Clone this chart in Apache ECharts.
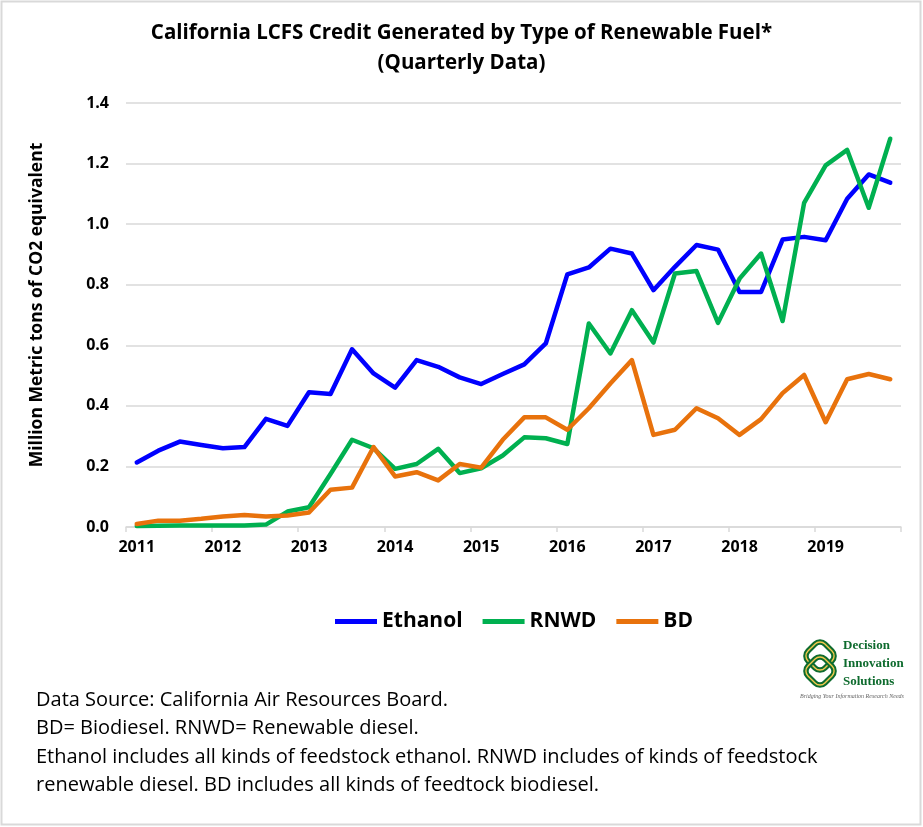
<!DOCTYPE html>
<html>
<head>
<meta charset="utf-8">
<script src="https://cdn.jsdelivr.net/npm/echarts@6/dist/echarts.min.js"></script>
<style>
html,body{margin:0;padding:0;background:#fff;}
#chart{width:923px;height:827px;}
</style>
</head>
<body>
<div id="chart"></div>
<script>
var years = ['2011','2012','2013','2014','2015','2016','2017','2018','2019'];
var quarters = ['Q1','Q2','Q3','Q4'];
var yTicks = [0, 0.2, 0.4, 0.6, 0.8, 1.0, 1.2, 1.4];

var ethanol = [0.213,0.252,0.282,0.271,0.260,0.264,0.357,0.334,0.445,0.439,0.587,0.507,
               0.460,0.551,0.529,0.494,0.472,0.505,0.537,0.606,0.834,0.857,0.919,0.903,
               0.782,0.859,0.931,0.916,0.776,0.776,0.949,0.958,0.947,1.084,1.164,1.137];
var rnwd    = [0.003,0.004,0.005,0.005,0.005,0.005,0.008,0.051,0.065,0.175,0.288,0.260,
               0.192,0.208,0.258,0.178,0.194,0.236,0.296,0.293,0.274,0.672,0.573,0.716,
               0.609,0.837,0.845,0.674,0.820,0.903,0.680,1.070,1.194,1.245,1.054,1.282];
var bd      = [0.010,0.021,0.021,0.027,0.035,0.040,0.035,0.038,0.048,0.123,0.130,0.264,
               0.167,0.181,0.154,0.208,0.196,0.288,0.362,0.362,0.321,0.392,0.474,0.551,
               0.304,0.321,0.392,0.359,0.304,0.356,0.442,0.502,0.346,0.488,0.505,0.488];

var categories = [];
years.forEach(function(y){ quarters.forEach(function(q){ categories.push(y + ' ' + q); }); });

var FONT = '"Open Sans", sans-serif';
var chart = echarts.init(document.getElementById('chart'));

function lineSeries(name, data, color){
  return {name:name, type:'line', data:data, symbol:'none', smooth:false,
    lineStyle:{color:color, width:4.5, cap:'round', join:'round'}, itemStyle:{color:color}};
}

function knotLoop(cx, cy, s){
  return [
    {type:'rect', shape:{x:cx-s/2, y:cy-s/2, width:s, height:s, r:7}, rotation:Math.PI/4, originX:cx, originY:cy,
      style:{fill:'none', stroke:'#0E6B2E', lineWidth:5.5}, silent:true},
    {type:'rect', shape:{x:cx-s/2, y:cy-s/2, width:s, height:s, r:7}, rotation:Math.PI/4, originX:cx, originY:cy,
      style:{fill:'none', stroke:'#F2C94C', lineWidth:1.4}, silent:true}
  ];
}

var graphics = [
  {type:'rect', shape:{x:1.5, y:1.5, width:919, height:823}, style:{fill:'none', stroke:'#D9D9D9', lineWidth:2}, silent:true},
  {type:'text', x:37, y:305, rotation:Math.PI/2, style:{
    text:'Million Metric tons of CO2 equivalent', align:'center', verticalAlign:'middle',
    font:'bold 17.5px ' + FONT, fill:'#000'}},
  {type:'text', left:36, top:686, style:{
    text:'Data Source: California Air Resources Board.\nBD= Biodiesel. RNWD= Renewable diesel.\nEthanol includes all kinds of feedstock ethanol. RNWD includes of kinds of feedstock\nrenewable diesel. BD includes all kinds of feedtock biodiesel.',
    font:'20px ' + FONT, fill:'#000', lineHeight:28.5}},
  {type:'text', left:843, top:637, style:{text:'Decision\nInnovation\nSolutions', font:'bold 13px "Liberation Serif", serif', fill:'#0E6B2E', lineHeight:18}},
  {type:'text', left:800, top:693, style:{text:'Bridging Your Information Research Needs', font:'italic 6px "Liberation Serif", serif', fill:'#666'}}
].concat(knotLoop(820, 656, 24), knotLoop(820, 671, 24));

chart.setOption({
  backgroundColor:'#fff',
  animation:false,
  title:{
    text:'California LCFS Credit Generated by Type of Renewable Fuel*\n(Quarterly Data)',
    left:'center', top:13,
    textStyle:{fontFamily:FONT, fontSize:20.5, fontWeight:'bold', color:'#000', lineHeight:30}
  },
  legend:{
    top:606, left:330, itemWidth:42, itemHeight:5, itemGap:20, icon:'rect',
    textStyle:{fontFamily:FONT, fontSize:21, fontWeight:'bold', color:'#000'},
    data:['Ethanol','RNWD','BD']
  },
  grid:{left:126, right:22, top:103, bottom:300, containLabel:false},
  xAxis:{
    type:'category', data:categories, boundaryGap:true,
    axisLine:{lineStyle:{color:'#D9D9D9', width:1.5}},
    axisTick:{show:true, interval:3, length:5, lineStyle:{color:'#D9D9D9', width:1.5}},
    axisLabel:{interval:3, margin:12, fontFamily:FONT, fontSize:16, fontWeight:'bold', color:'#000',
      formatter:function(v){ return v.split(' ')[0]; }}
  },
  yAxis:{
    type:'value', min:yTicks[0], max:yTicks[yTicks.length-1], interval:0.2,
    axisLine:{show:false}, axisTick:{show:false},
    splitLine:{lineStyle:{color:'#D9D9D9', width:1.5}},
    axisLabel:{margin:17, fontFamily:FONT, fontSize:16, fontWeight:'bold', color:'#000',
      formatter:function(v){ return v.toFixed(1); }}
  },
  series:[
    lineSeries('Ethanol', ethanol, '#0000FF'),
    lineSeries('RNWD', rnwd, '#00B050'),
    lineSeries('BD', bd, '#E8720C')
  ],
  graphic:graphics
});
</script>
</body>
</html>
